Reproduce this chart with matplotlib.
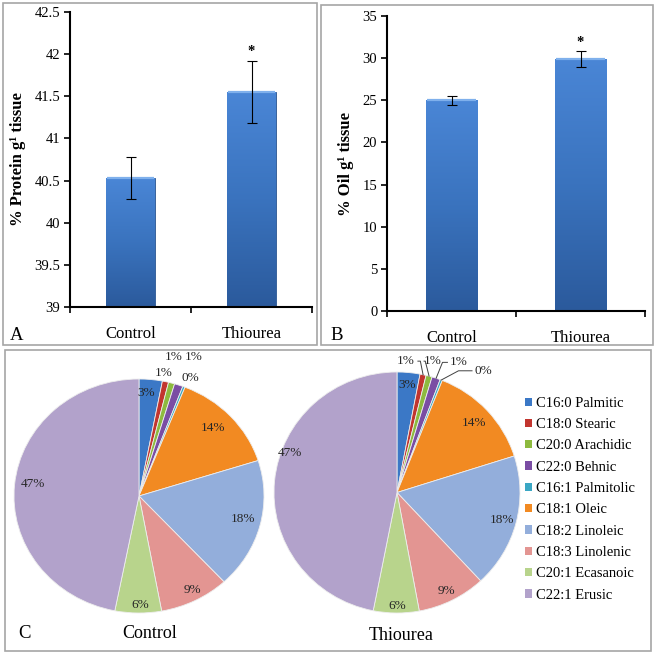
import numpy as np
import matplotlib
matplotlib.use("Agg")
import matplotlib.pyplot as plt
from matplotlib.patches import Rectangle
from matplotlib.colors import LinearSegmentedColormap

plt.rcParams['font.family'] = ['Liberation Serif', 'DejaVu Serif']

# ---------------- data ----------------
groups = ["Control", "Thiourea"]
protein = [40.53, 41.55]
protein_err = [0.25, 0.37]
oil = [25.0, 29.9]
oil_err = [0.55, 0.9]

fatty_acids = ["C16:0 Palmitic", "C18:0 Stearic", "C20:0 Arachidic", "C22:0 Behnic",
               "C16:1 Palmitolic", "C18:1 Oleic", "C18:2 Linoleic", "C18:3 Linolenic",
               "C20:1 Ecasanoic", "C22:1 Erusic"]
control_fa = [3.0, 0.8, 0.8, 1.1, 0.3, 14.1, 18.0, 9.0, 6.0, 46.9]
thiourea_fa = [3.0, 0.8, 0.8, 1.1, 0.3, 14.1, 18.0, 9.0, 6.0, 46.9]

fa_colors = ["#3B78C6", "#C2352F", "#8DBA3E", "#7A4DA4", "#3AA7C4", "#F28A22",
             "#93AEDB", "#E39592", "#B8D48C", "#B2A2CB"]

W, H = 657, 654
fig = plt.figure(figsize=(W / 100, H / 100), dpi=100)


def fbox(x0, y0, x1, y1):
    return [x0 / W, 1 - y1 / H, (x1 - x0) / W, (y1 - y0) / H]


# panel borders
for (x0, y0, x1, y1) in [(3, 3, 317, 345), (321, 5, 653, 345), (5, 350, 651, 651)]:
    fig.add_artist(Rectangle((x0 / W, 1 - y1 / H), (x1 - x0) / W, (y1 - y0) / H,
                             transform=fig.transFigure, fill=False,
                             edgecolor="#A6A6A6", linewidth=1.2))

grad_cmap = LinearSegmentedColormap.from_list("bar", ["#2B5A9C", "#3A73BE", "#4A86D6"])


def bar_panel(rect, values, errs, ylim, yticks, ylabel, letter, star_y, letter_xy):
    ax = fig.add_axes(rect)
    x = np.arange(len(groups))
    bars = ax.bar(x, values, width=0.4, color="#3B74C2", edgecolor="#2A5590",
                  linewidth=0.6, zorder=2)
    # vertical gradient inside each bar
    grad = np.linspace(0, 1, 256).reshape(-1, 1)
    for b in bars:
        x0, w = b.get_x(), b.get_width()
        im = ax.imshow(grad, extent=[x0, x0 + w, ylim[0], b.get_height()],
                       origin="lower", cmap=grad_cmap, aspect="auto", zorder=2.5)
        im.set_clip_path(b)
        ax.plot([x0 + w * 0.02, x0 + w * 0.98], [b.get_height(), b.get_height()],
                color="#7FB0EC", lw=1.6, zorder=2.6, solid_capstyle="butt")
    ax.errorbar(x, values, yerr=errs, fmt="none", ecolor="black", elinewidth=0.8,
                capsize=3.5, capthick=0.8, zorder=3)
    ax.text(1, star_y, "*", ha="center", va="center", fontsize=10.5, fontweight="bold")
    ax.set_xlim(-0.5, 1.5)
    ax.set_ylim(*ylim)
    ax.set_yticks(yticks)
    ax.set_yticklabels([f"{t:g}" for t in yticks], fontsize=10.5)
    ax.set_xticks(x)
    ax.set_xticklabels(groups, fontsize=12)
    ax.tick_params(axis="x", length=0, pad=14)
    ax.set_xticks([-0.5, 0.5, 1.5], minor=True)
    ax.tick_params(axis="x", which="minor", length=4, width=1.2, direction="out")
    ax.tick_params(axis="y", length=4, width=1.2, direction="out", pad=3)
    for s in ["top", "right"]:
        ax.spines[s].set_visible(False)
    for s in ["left", "bottom"]:
        ax.spines[s].set_linewidth(1.5)
    ax.set_ylabel(ylabel, fontsize=12, fontweight="bold", labelpad=6)
    ax.set_facecolor("none")
    fig.text(letter_xy[0] / W, 1 - letter_xy[1] / H, letter, fontsize=13.5,
             ha="left", va="center")
    return ax


bar_panel(fbox(70, 12, 312, 307), protein, protein_err, (39, 42.5),
          [39, 39.5, 40, 40.5, 41, 41.5, 42, 42.5], "% Protein g¹ tissue", "A", 42.03,
          (10, 335))
bar_panel(fbox(387, 16, 645, 311), oil, oil_err, (0, 35),
          [0, 5, 10, 15, 20, 25, 30, 35], "% Oil g¹ tissue", "B", 31.8, (330, 335))


def pie_panel(rect, values, label_pos, leaders, title, title_xy):
    ax = fig.add_axes(rect)
    wedges, _ = ax.pie(values, colors=fa_colors, startangle=90, counterclock=False,
                       radius=1.0, wedgeprops=dict(edgecolor="#EDEDED", linewidth=0.6))
    ax.set_aspect("auto")
    ax.set_xlim(-1, 1)
    ax.set_ylim(-1, 1)
    ax.axis("off")
    total = sum(values)
    start = 90.0
    for i, v in enumerate(values):
        pct = 100 * v / total
        mid = np.deg2rad(start - 180 * v / total)
        start -= 360 * v / total
        tx, ty = label_pos[i]
        ax.text(tx, ty, f"{pct:.0f}%", ha="center", va="center", fontsize=9.5,
                color="#262626")
        if leaders and i in leaders:
            ex, ey = np.cos(mid), np.sin(mid)
            lx, ly = leaders[i]
            ax.plot([lx[0], lx[1], ex], [ly[0], ly[1], ey], color="#404040", lw=0.7,
                    clip_on=False)
    fig.text(title_xy[0] / W, 1 - title_xy[1] / H, title, fontsize=13,
             ha="center", va="center")
    return ax


control_lab = [(0.06, 0.88), (0.195, 1.05), (0.28, 1.19), (0.44, 1.19), (0.41, 1.01),
               (0.59, 0.58), (0.83, -0.2), (0.43, -0.8), (0.01, -0.93), (-0.85, 0.1)]
thio_lab = [(0.08, 0.89), (0.07, 1.09), (0.29, 1.09), (0.50, 1.08), (0.70, 1.01),
            (0.63, 0.58), (0.85, -0.23), (0.40, -0.82), (0.0, -0.94), (-0.87, 0.33)]
thio_leaders = {
    1: ([0.17, 0.19], [1.09, 1.09]),
    2: ([0.22, 0.23], [1.09, 1.09]),
    3: ([0.41, 0.37], [1.08, 1.08]),
    4: ([0.61, 0.50], [1.01, 1.01]),
}

pie_panel(fbox(14, 379, 264, 613), control_fa, control_lab, None, "Control", (150, 633))
pie_panel(fbox(274, 372, 520, 613), thiourea_fa, thio_lab, thio_leaders, "Thiourea",
          (401, 635))
fig.text(18 / W, 1 - 633 / H, "C", fontsize=13.5, ha="left", va="center")

# legend
handles = [Rectangle((0, 0), 1, 1, facecolor=c, edgecolor="none") for c in fa_colors]
fig.legend(handles, fatty_acids, loc="upper left",
           bbox_to_anchor=(519 / W, 1 - 391 / H), frameon=False, fontsize=10.5,
           handlelength=0.5, handleheight=0.5, handletextpad=0.25, labelspacing=0.57,
           borderaxespad=0)

fig.savefig("out.png", dpi=100)
